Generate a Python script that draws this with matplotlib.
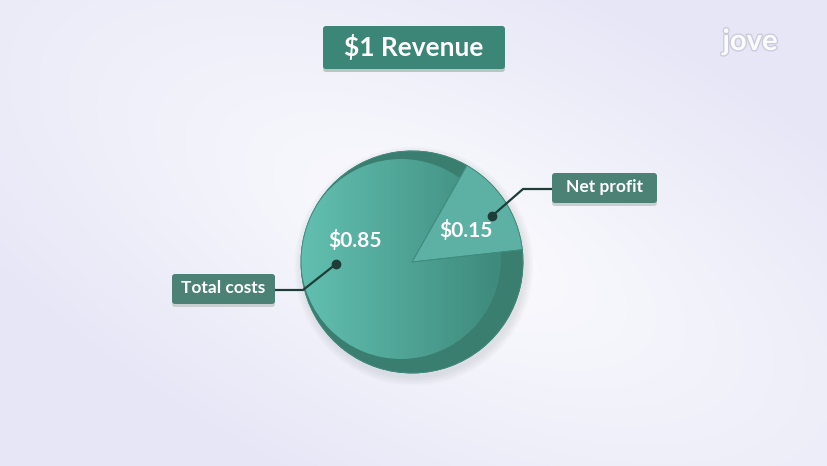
import numpy as np
import matplotlib
matplotlib.use("Agg")
import matplotlib.pyplot as plt
from matplotlib.patches import Circle, FancyBboxPatch
import matplotlib.patheffects as pe

W, H = 828, 466

# data
labels = ["Net profit", "Total costs"]
values = [0.15, 0.85]
value_text = ["$0.15", "$0.85"]
title = "$1 Revenue"

plt.rcParams['font.family'] = ['Lato', 'DejaVu Sans']

fig = plt.figure(figsize=(W / 100, H / 100), dpi=100)
ax = fig.add_axes([0, 0, 1, 1])

#   background: lavender with a soft white diagonal band
yy, xx = np.mgrid[0:H, 0:W]
u = (xx - 450) * np.cos(0.45) + (yy - 240) * np.sin(0.45)
v = -(xx - 450) * np.sin(0.45) + (yy - 240) * np.cos(0.45)
d = np.sqrt((u / 560) ** 2 + (v / 240) ** 2)
t = np.clip(d, 0, 1.2) / 1.2
c_in = np.array([251, 251, 254]) / 255
c_out = np.array([230, 230, 247]) / 255
bg = c_in[None, None, :] * (1 - t[..., None]) + c_out[None, None, :] * t[..., None]
ax.imshow(bg, extent=(0, W, 0, H), origin='upper', zorder=0, interpolation='bilinear')

# pie geometry (pixel coords, y up)
cx, cy, R = 412, 204, 111
fx, fy, fr = 401, 207, 100
start = 6.4

# soft shadow
for k in range(6):
    ax.add_patch(Circle((cx + 2, cy - 4), R + 1 + k * 1.5, color='#7a8a88',
                        alpha=0.03, lw=0, zorder=1))

# rim (outer pie)
rim, _ = ax.pie(values, colors=['#4a9687', '#3a7e70'], startangle=start,
                counterclock=True, center=(cx, cy), radius=R,
                wedgeprops=dict(linewidth=0.6, edgecolor='#3a7d70'))
for w in rim:
    w.set_zorder(2)

face_clip = Circle((fx, fy), fr, transform=ax.transData)

# face gradient for costs
gx = np.linspace(0, 1, 200)
left = np.array([98, 192, 177]) / 255
right = np.array([62, 138, 124]) / 255
grad = left[None, :] * (1 - gx[:, None]) + right[None, :] * gx[:, None]
grad = np.tile(grad[None, :, :], (10, 1, 1))
img = ax.imshow(grad, extent=(fx - fr, fx + fr, fy - fr, fy + fr), zorder=3,
                interpolation='bilinear', aspect='auto')
img.set_clip_path(face_clip)

# face wedges
face, _ = ax.pie(values, colors=['#5cb1a4', 'none'], startangle=start,
                 counterclock=True, center=(cx, cy), radius=R,
                 wedgeprops=dict(linewidth=0.6, edgecolor='#3f8c7e'))
for w in face:
    w.set_zorder(4)
    w.set_clip_path(Circle((fx, fy), fr, transform=ax.transData))

# value labels on slices
ax.text(466, H - 230, value_text[0], color='white', fontsize=15, fontweight='bold',
        ha='center', va='center', zorder=6)
ax.text(355, H - 241, value_text[1], color='white', fontsize=15, fontweight='bold',
        ha='center', va='center', zorder=6)

def label_box(x0, y0, x1, y1, text, fc, fs, shadow='#c9cfd0'):
    ax.add_patch(FancyBboxPatch((x0, H - y1 - 3), x1 - x0, y1 - y0,
                                boxstyle="round,pad=0,rounding_size=3",
                                fc=shadow, ec='none', zorder=7))
    ax.add_patch(FancyBboxPatch((x0, H - y1), x1 - x0, y1 - y0,
                                boxstyle="round,pad=0,rounding_size=3",
                                fc=fc, ec='none', zorder=8))
    ax.text((x0 + x1) / 2, H - (y0 + y1) / 2 + 1, text, color='white', fontsize=fs,
            fontweight='bold', ha='center', va='center', zorder=9)

# title
label_box(323, 26, 505, 69, title, '#3b8676', 19, shadow='#b9c6c2')

# callouts
label_box(552, 173, 657, 203, labels[0], '#4c8176', 12.5)
label_box(172, 274, 275, 304, labels[1], '#4c8176', 12.5)

line_c = '#1f3d38'
ax.plot([552, 523, 492], [H - 189, H - 189, H - 216], color=line_c, lw=1.6, zorder=6,
        solid_capstyle='round')
ax.plot([275, 303, 336], [H - 290, H - 290, H - 264], color=line_c, lw=1.6, zorder=6,
        solid_capstyle='round')
ax.plot([492, 336], [H - 216, H - 264], 'o', color=line_c, ms=6, zorder=7, ls='none')

# logo
ax.text(750, H - 42, "jove", color='white', fontsize=21, fontweight='bold',
        ha='center', va='center', zorder=9, alpha=0.9,
        path_effects=[pe.withStroke(linewidth=2, foreground='#c9c9da')])

ax.set_xlim(0, W)
ax.set_ylim(0, H)
ax.set_aspect('auto')
ax.axis('off')

fig.savefig("out.png", dpi=100)
